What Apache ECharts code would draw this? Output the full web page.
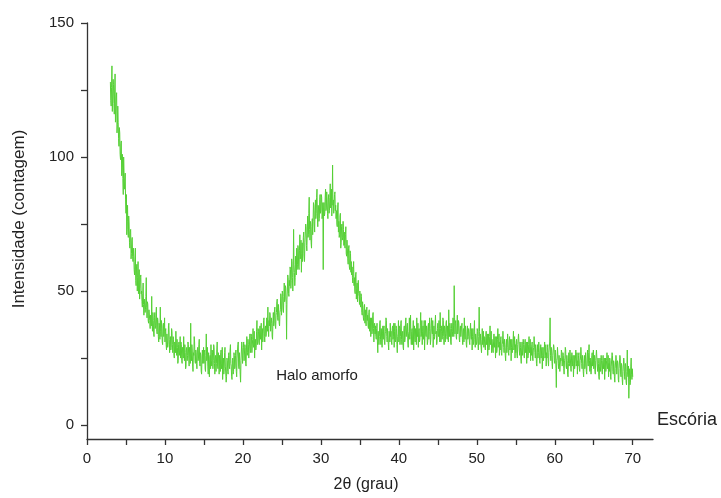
<!DOCTYPE html>
<html>
<head>
<meta charset="utf-8">
<script src="https://cdn.jsdelivr.net/npm/echarts@6/dist/echarts.min.js"></script>
<style>html,body{margin:0;padding:0;background:#fff;}#c{width:721px;height:498px;}</style>
</head>
<body>
<div id="c"></div>
<script>
// 2θ scan: start 3.0°, step 0.05°
const thetaStart = 3.0;
const thetaStep = 0.05;
// intensities (contagem), one row per degree (3..69), then 70.0
const intensity = [
128,121,119,126,134,117,122,129,127,120,116,125,131,113,118,122,124,109,112,119,
113,107,104,111,109,101,99,105,106,93,96,101,92,86,100,94,88,91,94,84,
79,86,71,76,82,73,70,78,75,68,66,72,73,62,64,69,70,63,61,66,
63,58,56,61,66,54,52,59,60,50,55,61,49,54,58,47,51,55,56,49,
50,46,44,49,53,45,41,47,47,42,43,48,55,44,40,46,45,39,38,43,
43,39,36,41,41,37,48,38,35,42,39,34,33,40,42,36,37,41,44,35,
34,40,39,33,31,38,37,32,44,35,33,39,36,31,30,37,38,33,35,40,
31,35,36,30,28,34,34,29,30,37,38,32,27,31,33,28,29,36,35,30,
27,33,32,26,25,31,30,27,35,29,26,32,29,23,24,30,31,26,28,33,
25,31,30,24,23,29,28,25,33,27,24,30,27,21,22,28,29,24,26,31,
30,25,22,29,27,23,38,26,24,30,28,22,20,27,26,33,31,24,23,28,
27,23,21,28,29,24,25,30,32,23,22,27,26,20,19,25,28,23,24,29,
23,27,28,21,20,26,34,24,25,29,22,19,27,23,18,25,26,21,30,24,
22,28,27,21,24,30,29,23,19,25,26,20,23,28,31,22,21,27,25,19,
26,22,20,27,28,21,23,29,17,24,25,19,21,27,29,22,22,16,18,25,
24,20,19,26,27,22,21,28,30,23,22,18,17,24,25,19,20,27,26,21,
22,26,28,20,18,25,25,30,31,22,21,27,27,19,16,24,24,31,29,23,
26,29,31,24,24,30,29,23,22,28,33,26,27,32,30,25,25,31,34,27,
28,34,33,27,27,32,36,29,30,35,25,31,32,28,29,35,39,30,31,36,
35,31,30,36,37,32,32,38,28,34,36,31,34,39,40,33,31,36,37,33,
34,40,39,35,44,36,33,39,37,42,41,35,35,40,38,33,32,39,42,37,
38,43,44,37,36,41,42,46,47,40,39,45,45,38,37,42,43,49,48,41,
44,50,49,43,42,48,53,46,47,52,51,45,32,47,50,56,55,49,48,54,
52,59,58,51,54,62,61,55,50,57,73,60,57,52,55,63,60,56,66,58,
60,67,66,59,58,65,71,62,63,69,57,64,68,61,64,70,72,63,61,68,
68,75,74,67,65,72,78,70,71,79,85,73,69,76,75,68,66,74,77,71,
76,83,82,75,72,80,84,77,79,85,88,78,74,82,81,76,77,84,86,79,
80,86,85,77,78,83,58,81,83,78,79,85,88,80,81,87,84,79,77,84,
86,79,80,85,90,81,83,88,78,84,97,82,84,79,79,86,87,80,82,77,
80,75,74,81,83,72,76,70,71,78,79,66,68,74,75,69,70,76,73,67,
72,67,66,71,74,64,63,69,69,62,60,66,67,59,58,65,64,57,61,56,
59,55,53,58,61,52,55,50,49,56,57,47,51,53,46,52,54,49,48,45,
50,45,44,49,48,42,41,46,46,40,39,44,45,38,43,40,37,43,44,39,
41,37,36,42,43,35,38,40,33,37,40,34,35,41,42,36,31,37,38,34,
37,33,32,36,38,31,27,35,35,30,33,38,39,32,30,36,36,29,34,37,
32,36,37,31,30,34,35,40,39,33,31,36,36,30,28,35,34,31,38,33,
35,31,30,36,37,32,33,38,29,35,38,31,32,37,36,30,27,33,34,39,
31,37,36,30,33,38,39,32,30,34,35,29,28,36,37,31,32,38,40,33,
33,37,38,31,29,34,35,40,32,36,41,33,30,35,36,30,34,39,28,33,
37,32,31,36,35,30,40,34,33,38,29,35,36,31,32,37,42,33,34,39,
30,35,37,32,34,39,28,33,39,34,33,37,36,30,31,37,38,32,35,40,
36,30,32,37,40,35,34,39,29,33,37,32,33,38,41,34,35,30,31,36,
38,34,33,39,36,31,42,36,31,35,37,32,34,40,39,33,30,37,36,31,
34,38,39,33,32,37,37,31,43,36,33,38,36,31,30,36,38,33,35,40,
37,33,52,40,34,38,39,33,32,37,41,34,35,39,38,32,31,36,37,33,
33,37,38,32,30,35,36,31,40,34,32,37,35,30,29,34,37,32,33,36,
35,31,30,35,38,33,32,36,28,33,36,30,31,35,39,32,29,34,34,30,
31,36,35,30,28,33,44,35,30,34,34,29,27,32,36,30,32,35,29,33,
33,29,28,33,35,30,30,34,26,31,34,28,29,33,37,30,31,35,27,32,
32,28,27,31,34,29,29,33,25,30,33,27,28,32,36,29,30,34,26,31,
28,32,33,27,26,30,31,35,35,29,27,32,30,26,24,29,32,27,29,34,
31,27,26,31,33,28,28,32,24,29,32,27,27,31,35,28,29,33,25,30,
27,31,32,26,25,30,30,34,34,28,26,31,29,25,23,28,31,26,28,32,
30,26,25,30,32,27,27,31,23,28,31,25,26,30,33,27,28,32,24,29,
26,30,31,25,24,28,29,33,33,27,25,30,28,23,22,27,30,25,27,31,
28,24,23,28,30,25,25,29,21,26,29,24,24,28,31,25,26,30,22,27,
25,29,30,24,22,27,27,31,40,26,24,29,28,23,21,26,26,30,29,24,
23,28,27,21,14,24,25,29,29,23,21,26,26,20,20,25,24,28,27,22,
22,27,26,21,19,24,25,29,28,22,21,26,24,19,18,23,27,22,23,28,
25,21,20,25,27,22,22,26,18,23,26,21,21,25,28,22,23,27,19,24,
22,26,27,21,20,24,25,29,29,23,21,26,24,20,18,23,26,21,22,27,
24,20,19,25,28,23,22,27,30,24,20,25,25,19,21,26,27,22,23,28,
21,25,26,20,19,24,24,28,28,22,20,25,23,18,17,22,25,20,22,26,
24,20,19,24,26,21,21,25,17,22,25,20,20,24,27,21,22,26,18,23,
20,25,24,18,17,22,22,27,26,20,19,24,23,18,16,21,21,26,24,19,
19,24,23,17,16,21,21,26,25,19,18,23,22,17,15,20,20,25,23,18,
17,23,22,16,15,20,28,19,18,22,10,17,21,15,16,22,25,19,17,21,
18
];
const xLabelValues = [0,10,20,30,40,50,60,70];
const xTickValues = [0,5,10,15,20,25,30,35,40,45,50,55,60,65,70];
const yLabelValues = [0,50,100,150];
const yTickValues = [0,25,50,75,100,125,150];
const xTitle = '2θ (grau)';
const yTitle = 'Intensidade (contagem)';
const annotation = 'Halo amorfo';
const sampleName = 'Escória';

const seriesData = intensity.map((v, i) => [+(thetaStart + i * thetaStep).toFixed(2), v]);

const chart = echarts.init(document.getElementById('c'), null, {renderer: 'canvas'});
const font = 'Liberation Sans, Arial, sans-serif';
const axisCol = '#333';
chart.setOption({
  animation: false,
  backgroundColor: '#fff',
  grid: {left: 87, right: 68, top: 23, bottom: 59, containLabel: false},
  xAxis: {
    type: 'value', min: 0, max: 72.6,
    axisLine: {show: true, onZero: false, lineStyle: {color: axisCol, width: 1.3}},
    axisTick: {show: true, inside: false, length: 6, customValues: xTickValues, lineStyle: {color: axisCol, width: 1.3}},
    axisLabel: {show: true, margin: 12, customValues: xLabelValues, color: '#222', fontSize: 15, fontFamily: font},
    splitLine: {show: false}
  },
  yAxis: {
    type: 'value', min: -5.2, max: 150,
    axisLine: {show: true, onZero: false, lineStyle: {color: axisCol, width: 1.3}},
    axisTick: {show: true, length: 6, customValues: yTickValues, lineStyle: {color: axisCol, width: 1.3}},
    axisLabel: {show: true, margin: 13, customValues: yLabelValues, color: '#222', fontSize: 15, fontFamily: font},
    splitLine: {show: false}
  },
  series: [{
    type: 'line',
    data: seriesData,
    showSymbol: false,
    lineStyle: {color: '#55d035', width: 1},
    itemStyle: {color: '#55d035'}
  }],
  graphic: [
    {type: 'text', x: 19, y: 219, rotation: Math.PI / 2,
     style: {text: yTitle, fill: '#222', font: '17px ' + font, align: 'center', verticalAlign: 'middle'}},
    {type: 'text', x: 366, y: 485,
     style: {text: xTitle, fill: '#222', font: '16px ' + font, align: 'center', verticalAlign: 'middle'}},
    {type: 'text', x: 317, y: 376,
     style: {text: annotation, fill: '#222', font: '15px ' + font, align: 'center', verticalAlign: 'middle'}},
    {type: 'text', x: 687, y: 420,
     style: {text: sampleName, fill: '#222', font: '18px ' + font, align: 'center', verticalAlign: 'middle'}}
  ]
});
</script>
</body>
</html>
